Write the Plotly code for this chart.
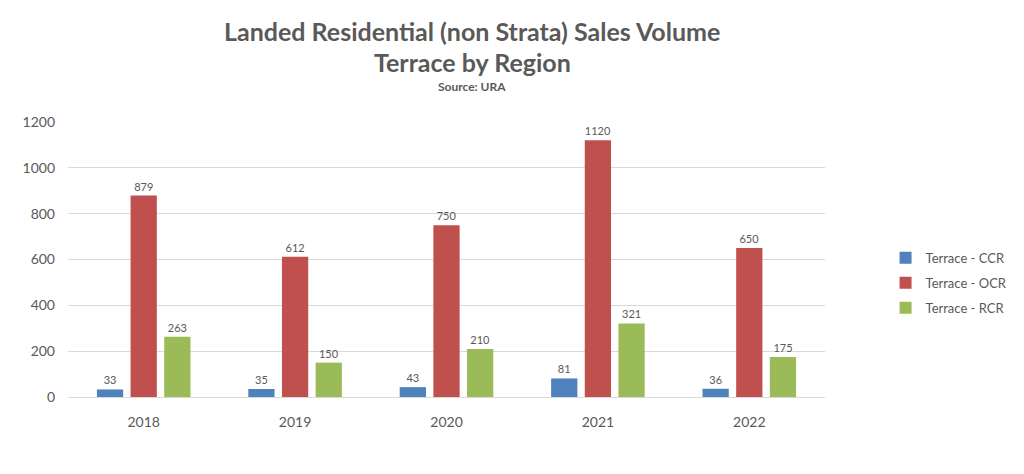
import plotly.graph_objects as go

years = ["2018", "2019", "2020", "2021", "2022"]
ccr = [33, 35, 43, 81, 36]
ocr = [879, 612, 750, 1120, 650]
rcr = [263, 150, 210, 321, 175]
series_names = ["Terrace - CCR", "Terrace - OCR", "Terrace - RCR"]
colors = ["#4F81BD", "#C0504D", "#9BBB59"]

FONT = "Lato"
GRAY = "#595959"

fig = go.Figure()
for name, vals, col in zip(series_names, [ccr, ocr, rcr], colors):
    fig.add_trace(go.Bar(
        x=years, y=vals, name=name, legendgroup=name,
        marker=dict(color=col, line=dict(width=0)),
        text=[str(v) for v in vals], textposition="outside",
        textfont=dict(family=FONT, size=11, color=GRAY),
        cliponaxis=False,
    ))

fig.update_layout(
    width=1024, height=474,
    margin=dict(l=68, r=199, t=122, b=77, autoexpand=False),
    paper_bgcolor="white", plot_bgcolor="white",
    barmode="group", bargap=0.333, bargroupgap=0.22,
    font=dict(family=FONT, color=GRAY),
    showlegend=True,
    legend=dict(x=1.08, xanchor="left", y=0.415, yanchor="middle",
                font=dict(family=FONT, size=13, color=GRAY),
                traceorder="grouped", tracegroupgap=5,
                bgcolor="rgba(0,0,0,0)"),
    xaxis=dict(showgrid=False, showline=True, linecolor="#D9D9D9", linewidth=1,
               ticks="", tickfont=dict(family=FONT, size=14, color=GRAY),
               ticklabelstandoff=12),
    yaxis=dict(range=[0, 1200], dtick=200, showgrid=True, gridcolor="#D9D9D9",
               gridwidth=1, zeroline=False, showline=False, ticks="",
               tickfont=dict(family=FONT, size=14, color=GRAY), ticklabelstandoff=12),
)

def ypx(py):
    return (474 - 77 - py) / (474 - 122 - 77)

titles = [
    ("<b>Landed Residential (non Strata) Sales Volume</b>", 31, 25),
    ("<b>Terrace by Region</b>", 62, 25),
    ("<b>Source: URA</b>", 86, 12),
]
xc = (472 - 68) / (1024 - 68 - 199)
for t, py, sz in titles:
    fig.add_annotation(text=t, x=xc, y=ypx(py), xref="paper", yref="paper",
                       xanchor="center", yanchor="middle", showarrow=False,
                       font=dict(family=FONT, size=sz, color=GRAY))

fig.write_html("out.html")
